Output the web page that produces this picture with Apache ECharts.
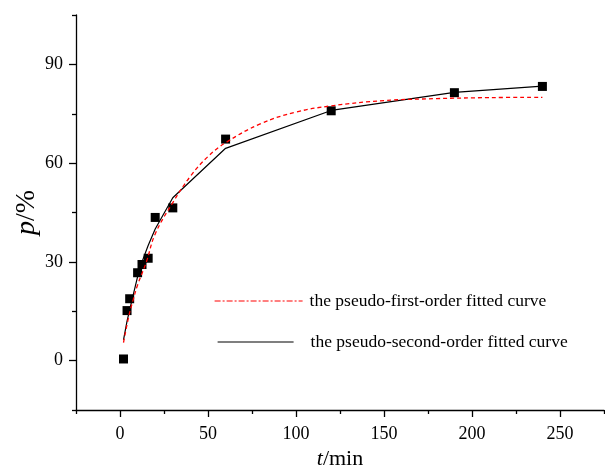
<!DOCTYPE html>
<html>
<head>
<meta charset="utf-8">
<script src="https://cdn.jsdelivr.net/npm/echarts@6/dist/echarts.min.js"></script>
<style>html,body{margin:0;padding:0;background:#fff}#c{width:605px;height:470px}</style>
</head>
<body>
<div id="c"></div>
<script>
// experimental data
var expT = [2, 4, 5.5, 10, 12.5, 16, 20, 30, 60, 120, 190, 240];
var expP = [0.5, 15.2, 18.8, 26.7, 29.2, 31.1, 43.5, 46.4, 67.3, 75.9, 81.4, 83.3];
// pseudo-first-order fitted curve
var pfoT = [2, 5, 7.5, 10, 15, 20, 30, 40, 50, 60, 80, 100, 120, 150, 180, 210, 240];
var pfoP = [5.5, 13.5, 18.5, 23, 30, 38.5, 48, 56, 62, 66.2, 72, 75.5, 77.4, 79, 79.6, 79.9, 80];
// pseudo-second-order fitted curve
var psoT = [2, 4, 5.5, 10, 12.5, 16, 20, 30, 60, 120, 190, 240];
var psoP = [6.3, 12, 15.5, 25.5, 30, 35, 40, 49.5, 64.5, 76, 81.5, 83.4];
// ticks
var xMajor = [0, 50, 100, 150, 200, 250];
var xMinor = [-25, 25, 75, 125, 175, 225, 275];
var yMajor = [0, 30, 60, 90];
var yMinor = [-15, 15, 45, 75, 105];
var nameFirst = 'the pseudo-first-order fitted curve';
var nameSecond = 'the pseudo-second-order fitted curve';

function zip(a, b) { return a.map(function (v, i) { return [v, b[i]]; }); }

var FONT = '"Liberation Serif", "Times New Roman", serif';
var chart = echarts.init(document.getElementById('c'));
var axisLineStyle = { color: '#000', width: 1.3 };
chart.setOption({
  animation: false,
  backgroundColor: '#fff',
  grid: { left: 76, right: 1, top: 15, bottom: 60, containLabel: false, outerBoundsMode: 'none' },
  xAxis: [{
    type: 'value', min: -25, max: 275, position: 'bottom',
    axisLine: { show: true, onZero: false, lineStyle: axisLineStyle },
    axisTick: { show: true, length: 7, customValues: xMajor, lineStyle: axisLineStyle },
    axisLabel: { customValues: xMajor, color: '#000', fontFamily: FONT, fontSize: 18, margin: 15 },
    splitLine: { show: false },
    name: '{i|t}/min', nameLocation: 'middle', nameGap: 38,
    nameTextStyle: { color: '#000', fontFamily: FONT, fontSize: 22,
      rich: { i: { fontStyle: 'italic', fontFamily: FONT, fontSize: 22, color: '#000' } } }
  }, {
    type: 'value', min: -25, max: 275, position: 'bottom',
    axisLine: { show: false, onZero: false },
    axisTick: { show: true, length: 4, customValues: xMinor, lineStyle: axisLineStyle },
    axisLabel: { show: false },
    splitLine: { show: false }
  }],
  yAxis: [{
    type: 'value', min: -15, max: 105, position: 'left',
    axisLine: { show: true, onZero: false, lineStyle: axisLineStyle },
    axisTick: { show: true, length: 7, customValues: yMajor, lineStyle: axisLineStyle },
    axisLabel: { customValues: yMajor, color: '#000', fontFamily: FONT, fontSize: 18, margin: 13 },
    splitLine: { show: false },
    name: '{i|p}/%', nameLocation: 'middle', nameGap: 35, nameMoveOverlap: false,
    nameTextStyle: { color: '#000', fontFamily: FONT, fontSize: 28,
      rich: { i: { fontStyle: 'italic', fontFamily: FONT, fontSize: 28, color: '#000' } } }
  }, {
    type: 'value', min: -15, max: 105, position: 'left',
    axisLine: { show: false, onZero: false },
    axisTick: { show: true, length: 4, customValues: yMinor, lineStyle: axisLineStyle },
    axisLabel: { show: false },
    splitLine: { show: false }
  }],
  legend: [{
    data: [nameFirst], left: 214, top: 292, padding: 0, itemWidth: 88, itemHeight: 14,
    itemStyle: { opacity: 0 },
    lineStyle: { type: [6, 2, 2, 2], width: 1.2, color: '#ff0000' },
    textStyle: { color: '#000', fontFamily: FONT, fontSize: 17.5, padding: [0, 0, 0, 2] }
  }, {
    data: [nameSecond], left: 217, top: 333, padding: 0, itemWidth: 76, itemHeight: 14,
    itemStyle: { opacity: 0 },
    lineStyle: { width: 1.2, color: '#000' },
    textStyle: { color: '#000', fontFamily: FONT, fontSize: 17.5, padding: [0, 0, 0, 12] }
  }],
  series: [{
    type: 'scatter', name: 'exp', data: zip(expT, expP), symbol: 'rect', symbolSize: 9,
    itemStyle: { color: '#000', opacity: 1 }, z: 1
  }, {
    type: 'line', name: nameFirst, data: zip(pfoT, pfoP), smooth: 0.4, symbol: 'none',
    lineStyle: { color: '#ff0000', width: 1.3, type: [4, 3] }, itemStyle: { color: '#ff0000' }, z: 3
  }, {
    type: 'line', name: nameSecond, data: zip(psoT, psoP), smooth: false, symbol: 'none',
    lineStyle: { color: '#000', width: 1.2 }, itemStyle: { color: '#000' }, z: 2
  }]
});
</script>
</body>
</html>
